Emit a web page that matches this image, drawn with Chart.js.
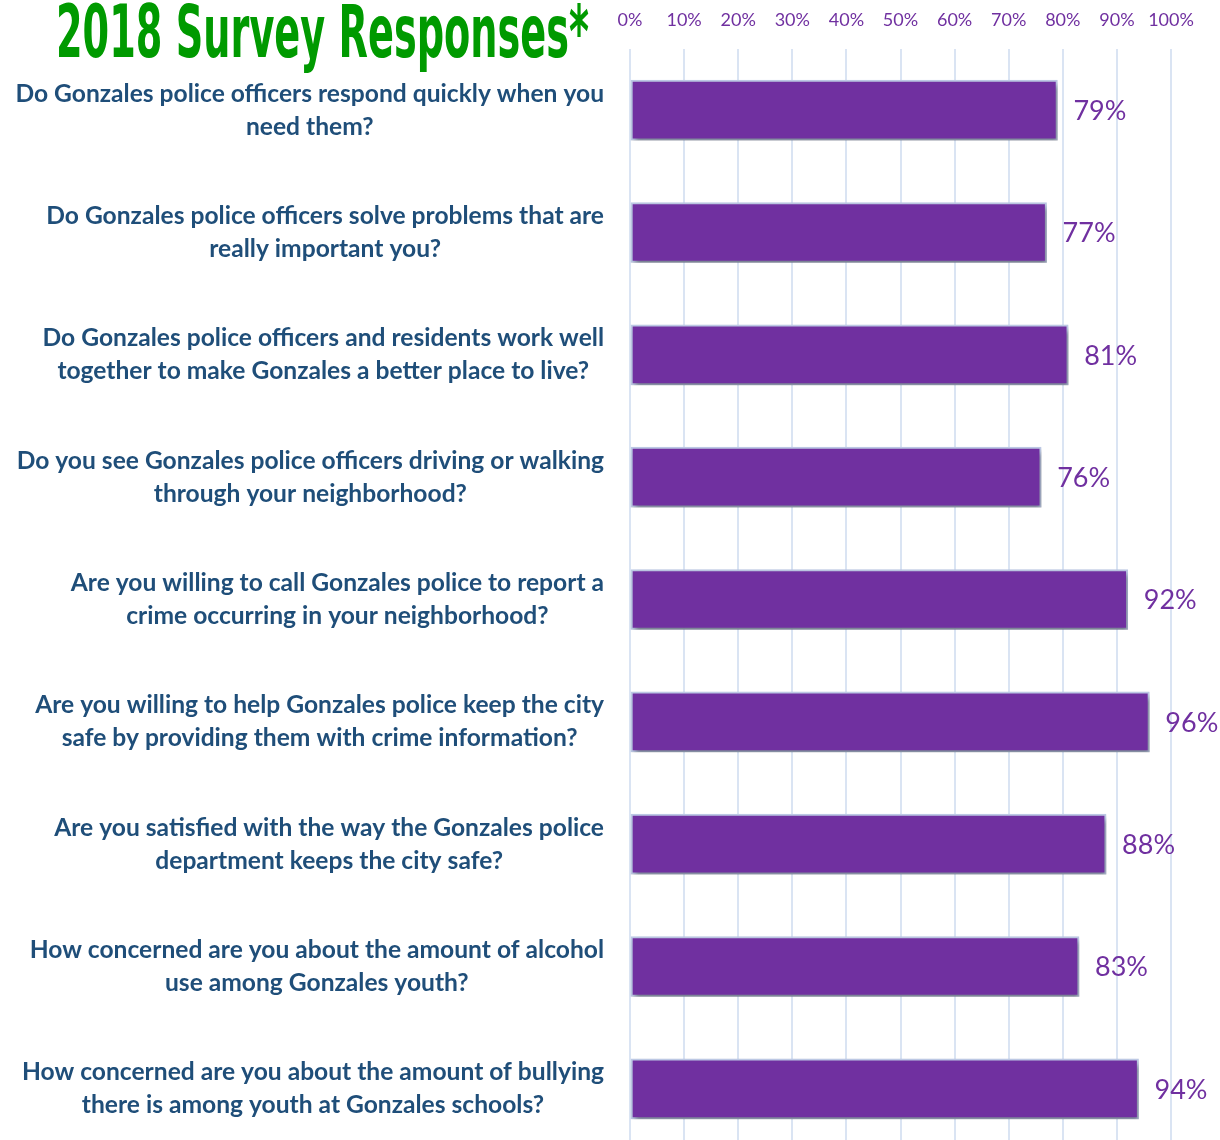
<!DOCTYPE html>
<html>
<head>
<meta charset="utf-8">
<script src="https://cdn.jsdelivr.net/npm/chart.js@4/dist/chart.umd.min.js"></script>
<style>
  html, body { margin: 0; padding: 0; background: #ffffff; overflow: hidden; }
  #wrap { position: relative; width: 1220px; height: 1150px; }
  #title {
    position: absolute; left: 56px; top: -5px;
    font-family: "DejaVu Sans Condensed", "DejaVu Sans", sans-serif;
    font-weight: bold; font-size: 73px; color: #009a00;
    white-space: nowrap; transform-origin: 0 0; line-height: 1;
  }
  canvas { position: absolute; left: 0; top: 0; }
</style>
</head>
<body>
<div id="wrap">
  <canvas id="c" width="1220" height="1150"></canvas>
  <div id="title">2018 Survey Responses*</div>
</div>
<script>
const questions = [
  ["Do Gonzales police officers respond quickly when you", "need them?"],
  ["Do Gonzales police officers solve problems that are", "really important you?"],
  ["Do Gonzales police officers and residents work well", "together to make Gonzales a better place to live?"],
  ["Do you see Gonzales police officers driving or walking", "through your neighborhood?"],
  ["Are you willing to call Gonzales police to report a", "crime occurring in your neighborhood?"],
  ["Are you willing to help Gonzales police keep the city", "safe by providing them with crime information?"],
  ["Are you satisfied with the way the Gonzales police", "department keeps the city safe?"],
  ["How concerned are you about the amount of alcohol", "use among Gonzales youth?"],
  ["How concerned are you about the amount of bullying", "there is among youth at Gonzales schools?"]
];
const percentYes = [79, 77, 81, 76, 92, 96, 88, 83, 94];
const tickValues = [0, 10, 20, 30, 40, 50, 60, 70, 80, 90, 100];

// fit title width
(function(){
  const t = document.getElementById('title');
  const w = t.getBoundingClientRect().width;
  t.style.transform = 'scaleX(' + (533 / w) + ')';
})();

const LABEL_FONT = 'bold 24.6px Lato, "Open Sans", sans-serif';

const shadowPlugin = {
  id: 'barShadow',
  beforeDatasetDraw(chart) {
    const ctx = chart.ctx;
    ctx.save();
    ctx.shadowColor = 'rgba(0,0,0,0.38)';
    ctx.shadowBlur = 5;
    ctx.shadowOffsetX = 2;
    ctx.shadowOffsetY = 4;
  },
  afterDatasetDraw(chart) {
    chart.ctx.restore();
  }
};

const labelPlugin = {
  id: 'sideLabels',
  afterDraw(chart) {
    const ctx = chart.ctx;
    const yScale = chart.scales.y;
    const meta = chart.getDatasetMeta(0);
    ctx.save();
    ctx.font = LABEL_FONT;
    ctx.fillStyle = '#1f4e79';
    ctx.textAlign = 'center';
    ctx.textBaseline = 'middle';
    const lh = 33;
    questions.forEach((lines, i) => {
      const cy = yScale.getPixelForValue(i);
      const widths = lines.map(l => ctx.measureText(l).width);
      const bw = Math.max(...widths);
      const cx = 604 - bw / 2;
      const y0 = cy - (lines.length - 1) * lh / 2;
      lines.forEach((l, k) => ctx.fillText(l, cx, y0 + k * lh));
    });
    ctx.font = '27px Lato, "Open Sans", sans-serif';
    ctx.fillStyle = '#7030a0';
    ctx.textAlign = 'left';
    meta.data.forEach((bar, i) => {
      ctx.fillText(percentYes[i] + '%', bar.x + 16, bar.y + 1);
    });
    ctx.restore();
  }
};

new Chart(document.getElementById('c'), {
  type: 'bar',
  data: {
    labels: questions,
    datasets: [{
      data: percentYes,
      backgroundColor: '#7030a0',
      borderColor: '#bcc8e4',
      borderWidth: 2,
      borderSkipped: false,
      barThickness: 60
    }]
  },
  options: {
    indexAxis: 'y',
    responsive: false,
    animation: false,
    layout: { padding: { left: 0, right: 49, top: 0, bottom: 0 } },
    plugins: {
      legend: { display: false },
      tooltip: { enabled: false },
      title: { display: false }
    },
    scales: {
      x: {
        position: 'top',
        min: 0, max: 100,
        afterBuildTicks(scale) { scale.ticks = tickValues.map(v => ({ value: v })); },
        afterFit(scale) { scale.height = 49; },
        ticks: {
          callback: v => v + '%',
          color: '#7030a0',
          font: { family: 'Lato, "Open Sans", sans-serif', size: 18 },
          padding: 18,
          maxRotation: 0,
          autoSkip: false
        },
        grid: { color: '#dae4f3', lineWidth: 2, drawTicks: false },
        border: { display: false }
      },
      y: {
        afterFit(scale) { scale.width = 630; },
        ticks: { display: false },
        grid: { display: false },
        border: { display: false }
      }
    }
  },
  plugins: [shadowPlugin, labelPlugin]
});
</script>
</body>
</html>
